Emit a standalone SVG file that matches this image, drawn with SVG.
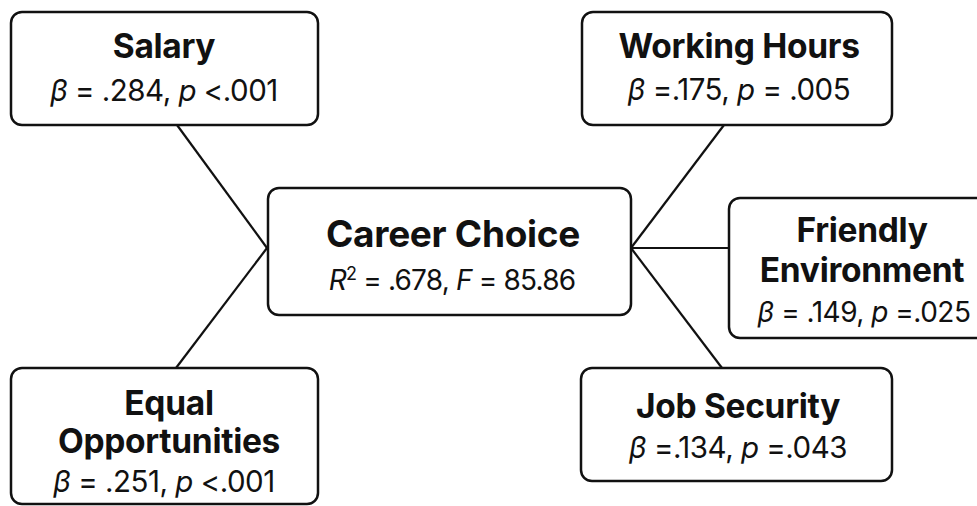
<svg xmlns="http://www.w3.org/2000/svg" width="977" height="506" viewBox="0 0 977 506">
<style>
.box{fill:#fff;stroke:#111;stroke-width:2.5}
.conn line{stroke:#111;stroke-width:2.2}
.t{font-family:Inter,"Liberation Sans",sans-serif;font-weight:bold;font-size:33.5px;fill:#111;text-anchor:middle;letter-spacing:-0.3px}
.s{font-family:Inter,"Liberation Sans",sans-serif;font-size:29.5px;fill:#111;text-anchor:middle;letter-spacing:-0.5px}
.i{font-style:italic}
</style>
<rect width="977" height="506" fill="#fff"/>
<g class="conn">
<line x1="177" y1="125" x2="267" y2="248"/>
<line x1="176" y1="368" x2="267" y2="248"/>
<line x1="724" y1="125" x2="631" y2="248"/>
<line x1="729" y1="248" x2="631" y2="248"/>
<line x1="722" y1="368" x2="631" y2="248"/>
</g>
<g id="salary">
<rect class="box" x="11" y="12" width="307" height="113" rx="11"/>
<text class="t" x="164" y="58">Salary</text>
<text class="s" x="164" y="101"><tspan class="i">β</tspan> = .284, <tspan class="i">p</tspan> &lt;.001</text>
</g>
<g id="working-hours">
<rect class="box" x="582" y="12" width="310" height="113" rx="11"/>
<text class="t" x="739" y="58">Working Hours</text>
<text class="s" x="739" y="100"><tspan class="i">β</tspan> =.175, <tspan class="i">p</tspan> = .005</text>
</g>
<g id="career-choice">
<rect class="box" x="268" y="188" width="363" height="127" rx="11"/>
<text class="t" x="453" y="247" style="font-size:37px">Career Choice</text>
<text class="s" x="452" y="290" style="font-size:28px;letter-spacing:-0.8px"><tspan class="i">R</tspan><tspan dy="-10" style="font-size:18px">2</tspan><tspan dy="10"> = .678, </tspan><tspan class="i">F</tspan> = 85.86</text>
</g>
<g id="friendly-environment">
<rect class="box" x="729" y="198" width="275" height="140" rx="11"/>
<text class="t" x="862" y="242">Friendly</text>
<text class="t" x="862" y="282">Environment</text>
<text class="s" x="864" y="322" style="font-size:28px"><tspan class="i">β</tspan> = .149, <tspan class="i">p</tspan> =.025</text>
</g>
<g id="equal-opportunities">
<rect class="box" x="11" y="368" width="307" height="136" rx="11"/>
<text class="t" x="169" y="415">Equal</text>
<text class="t" x="169" y="453">Opportunities</text>
<text class="s" x="164" y="492"><tspan class="i">β</tspan> = .251, <tspan class="i">p</tspan> &lt;.001</text>
</g>
<g id="job-security">
<rect class="box" x="581" y="368" width="311" height="113" rx="11"/>
<text class="t" x="738" y="418">Job Security</text>
<text class="s" x="738" y="458"><tspan class="i">β</tspan> =.134, <tspan class="i">p</tspan> =.043</text>
</g>
</svg>
